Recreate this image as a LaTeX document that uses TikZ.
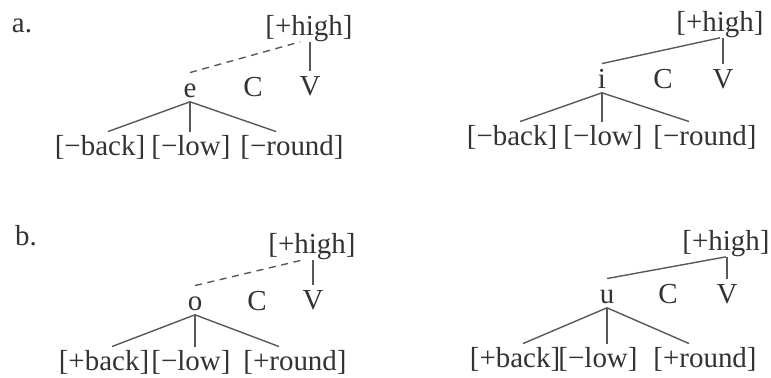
\documentclass[tikz,border=0pt]{standalone}
\usepackage{fontspec}
\setmainfont{Liberation Serif}
\usetikzlibrary{calc}

\begin{document}
\begin{tikzpicture}[x=0.0125cm, y=-0.0125cm,
		every node/.style={text=black!80, font=\fontsize{10.3}{12}\selectfont},
		feat/.style={anchor=base, inner sep=1pt},
		seg/.style={anchor=base, text height=7pt, text depth=0pt, inner sep=1.5pt},
		hifeat/.style={anchor=base, inner sep=0pt},
		assoc/.style={draw=black!65, line width=0.5pt},
		delink/.style={assoc, dash pattern=on 2.5pt off 2pt}]

		\useasboundingbox (0,0) rectangle (771,377);

		% Shifts of the line ends on the feature brackets
		\def\lsh{0.1cm}
		\def\rsh{-0.2cm}
		\def\dsh{-0.11cm}

		% --- a., left: e ---
		\node[anchor=base] (laba) at (22,32) {a.};
		\node[hifeat] (hia) at (309,35) {[+high]};
		\node[seg] (ea) at (190,97) {e};
		\node[seg] (ca) at (253,96) {C};
		\node[seg] (va) at (310,95) {V};
		\node[feat] (bka) at (100,155) {[−back]};
		\node[feat] (lwa) at (191,155) {[−low]};
		\node[feat] (rda) at (292,155) {[−round]};
		\draw[delink] (ea.north) -- ([xshift=\dsh]hia.south);
		\draw[assoc] (va.north) -- (va.north |- hia.south);
		\draw[assoc] (ea.south) -- ([xshift=\lsh]bka.north);
		\draw[assoc] (ea.south) -- (ea.south |- lwa.north);
		\draw[assoc] (ea.south) -- ([xshift=\rsh]rda.north);

		% --- a., right: i ---
		\node[hifeat] (hib) at (720,31) {[+high]};
		\node[seg] (ib) at (602,88) {i};
		\node[seg] (cb) at (663,88) {C};
		\node[seg] (vb) at (723,88) {V};
		\node[feat] (bkb) at (512,145) {[−back]};
		\node[feat] (lwb) at (603,145) {[−low]};
		\node[feat] (rdb) at (705,145) {[−round]};
		\draw[assoc] (ib.north) -- (hib.south);
		\draw[assoc] (vb.north) -- (vb.north |- hib.south);
		\draw[assoc] (ib.south) -- ([xshift=\lsh]bkb.north);
		\draw[assoc] (ib.south) -- (ib.south |- lwb.north);
		\draw[assoc] (ib.south) -- ([xshift=\rsh]rdb.north);

		% --- b., left: o ---
		\node[anchor=base] (labc) at (26,245) {b.};
		\node[hifeat] (hic) at (312,253) {[+high]};
		\node[seg] (oc) at (195,310) {o};
		\node[seg] (cc) at (257,310) {C};
		\node[seg] (vc) at (313,309) {V};
		\node[feat] (bkc) at (104,370) {[+back]};
		\node[feat] (lwc) at (191,370) {[−low]};
		\node[feat] (rdc) at (295,370) {[+round]};
		\draw[delink] (oc.north) -- ([xshift=\dsh]hic.south);
		\draw[assoc] (vc.north) -- (vc.north |- hic.south);
		\draw[assoc] (oc.south) -- ([xshift=\lsh]bkc.north);
		\draw[assoc] (oc.south) -- (oc.south |- lwc.north);
		\draw[assoc] (oc.south) -- ([xshift=\rsh]rdc.north);

		% --- b., right: u ---
		\node[hifeat] (hid) at (726,250) {[+high]};
		\node[seg] (ud) at (607,303) {u};
		\node[seg] (cd) at (668,303) {C};
		\node[seg] (vd) at (727,303) {V};
		\node[feat] (bkd) at (515,367) {[+back]};
		\node[feat] (lwd) at (598,367) {[−low]};
		\node[feat] (rdd) at (705,367) {[+round]};
		\draw[assoc] (ud.north) -- (hid.south);
		\draw[assoc] (vd.north) -- (vd.north |- hid.south);
		\draw[assoc] (ud.south) -- ([xshift=\lsh]bkd.north);
		\draw[assoc] (ud.south) -- (ud.south |- lwd.north);
		\draw[assoc] (ud.south) -- ([xshift=\rsh]rdd.north);

	\end{tikzpicture}
\end{document}
